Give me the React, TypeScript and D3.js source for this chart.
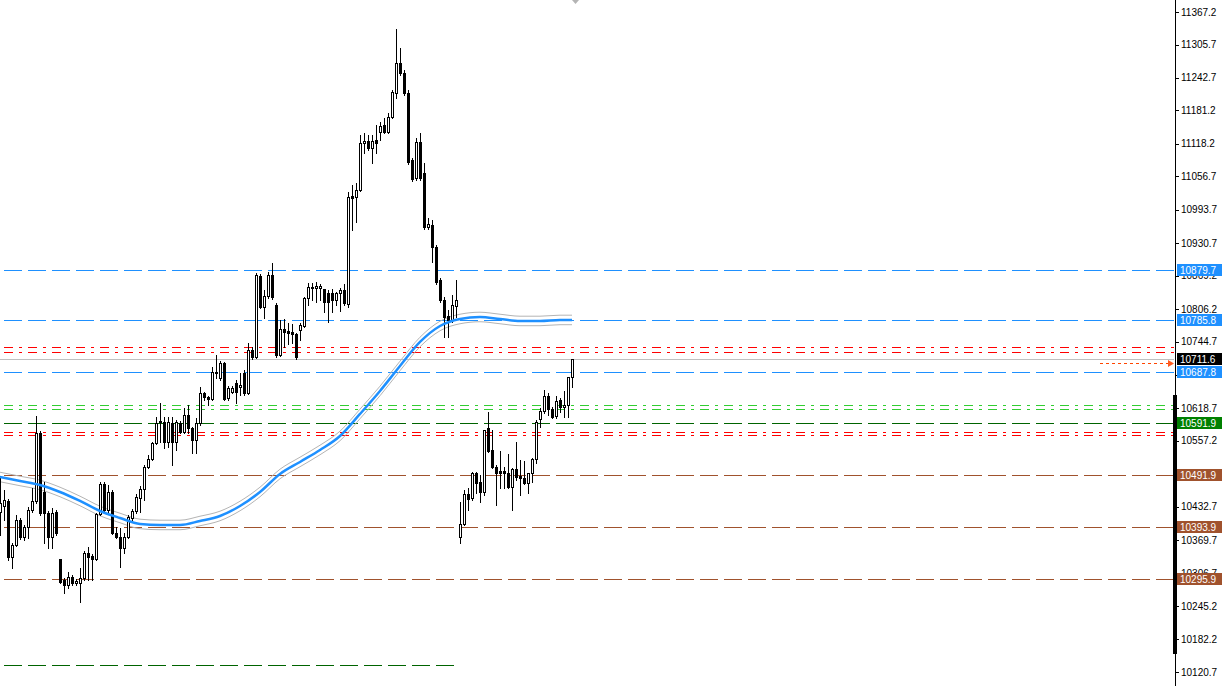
import React from "react";
import * as d3 from "d3";

const WIDTH = 1222;
const HEIGHT = 686;

// ---- price scale ----
const priceMin = 10120.7;
const priceMax = 11367.2;
const priceTicks = [
  11367.2, 11305.7, 11242.7, 11181.2, 11118.2, 11056.7, 10993.7, 10930.7, 10869.2, 10806.2, 10744.7,
  10681.7, 10618.7, 10557.2, 10494.2, 10432.7, 10369.7, 10306.7, 10245.2, 10182.2, 10120.7,
];

// ---- candles (OHLC) ----
const opens = [
  10423, 10434, 10444, 10338, 10361, 10408, 10376, 10395, 10427, 10444,
  10572, 10461, 10421, 10376, 10423, 10334, 10295, 10285, 10300, 10289,
  10289, 10298, 10346, 10340, 10334, 10419, 10476, 10427, 10461, 10383,
  10376, 10355, 10376, 10412, 10425, 10449, 10466, 10508, 10523, 10553,
  10593, 10593, 10555, 10591, 10555, 10591, 10574, 10606, 10582, 10559,
  10591, 10648, 10640, 10636, 10685, 10676, 10704, 10638, 10650, 10667,
  10659, 10685, 10648, 10729, 10716, 10869, 10810, 10831, 10871, 10814,
  10719, 10769, 10765, 10763, 10759, 10767, 10774, 10827, 10848, 10846,
  10846, 10844, 10837, 10837, 10823, 10837, 10842, 10816, 11020, 11018,
  11031, 11120, 11124, 11110, 11126, 11141, 11154, 11141, 11169, 11214,
  11271, 11252, 11214, 11088, 11054, 11122, 11063, 10961, 10965, 10923,
  10861, 10823, 10793, 10786, 10812, 10376, 10400, 10457, 10449, 10497,
  10480, 10461, 10582, 10540, 10508, 10500, 10500, 10497, 10470, 10504,
  10491, 10487, 10478, 10497, 10523, 10599, 10614, 10642, 10617, 10604,
  10634, 10621, 10625, 10678,
];
const highs = [
  10491, 10465, 10448, 10364, 10417, 10412, 10398, 10432, 10468, 10604,
  10576, 10480, 10425, 10431, 10427, 10334, 10298, 10310, 10304, 10296,
  10317, 10349, 10357, 10344, 10421, 10480, 10480, 10474, 10465, 10395,
  10393, 10383, 10417, 10429, 10457, 10472, 10512, 10531, 10555, 10602,
  10629, 10602, 10602, 10602, 10597, 10595, 10619, 10625, 10583, 10601,
  10659, 10650, 10642, 10697, 10720, 10708, 10706, 10661, 10661, 10672,
  10685, 10691, 10742, 10734, 10874, 10872, 10842, 10876, 10893, 10818,
  10786, 10787, 10780, 10778, 10761, 10780, 10829, 10855, 10855, 10857,
  10854, 10844, 10842, 10844, 10838, 10846, 10854, 11027, 11040, 11044,
  11135, 11139, 11135, 11135, 11154, 11160, 11167, 11177, 11220, 11335,
  11299, 11258, 11220, 11091, 11129, 11139, 11082, 10978, 10974, 10927,
  10865, 10829, 10804, 10833, 10861, 10442, 10465, 10468, 10498, 10498,
  10493, 10578, 10612, 10578, 10512, 10538, 10508, 10533, 10506, 10555,
  10521, 10519, 10497, 10525, 10597, 10619, 10653, 10648, 10621, 10642,
  10638, 10651, 10678, 10712,
];
const lows = [
  10380, 10408, 10332, 10317, 10359, 10372, 10370, 10374, 10423, 10440,
  10417, 10364, 10355, 10355, 10380, 10289, 10270, 10279, 10285, 10285,
  10253, 10295, 10295, 10295, 10332, 10417, 10423, 10423, 10381, 10374,
  10319, 10346, 10374, 10408, 10421, 10423, 10446, 10506, 10521, 10551,
  10555, 10544, 10546, 10512, 10540, 10572, 10572, 10572, 10534, 10534,
  10587, 10634, 10625, 10634, 10676, 10672, 10634, 10634, 10648, 10629,
  10644, 10644, 10646, 10712, 10714, 10808, 10789, 10827, 10825, 10716,
  10718, 10735, 10740, 10742, 10712, 10748, 10772, 10814, 10823, 10820,
  10823, 10801, 10782, 10801, 10814, 10803, 10814, 10810, 10956, 10971,
  11029, 11101, 11107, 11082, 11101, 11126, 11139, 11139, 11167, 11205,
  11248, 11211, 11080, 11048, 11050, 11050, 10957, 10957, 10895, 10854,
  10820, 10754, 10754, 10782, 10791, 10364, 10398, 10427, 10446, 10459,
  10442, 10455, 10536, 10506, 10436, 10468, 10468, 10468, 10427, 10483,
  10455, 10476, 10459, 10480, 10515, 10584, 10610, 10606, 10600, 10600,
  10612, 10602, 10602, 10659,
];
const closes = [
  10440, 10446, 10338, 10361, 10408, 10376, 10395, 10427, 10444, 10572,
  10421, 10421, 10376, 10421, 10383, 10291, 10285, 10300, 10289, 10293,
  10298, 10346, 10338, 10334, 10419, 10476, 10427, 10461, 10383, 10376,
  10355, 10376, 10414, 10425, 10451, 10466, 10508, 10523, 10553, 10591,
  10595, 10555, 10593, 10555, 10593, 10574, 10606, 10582, 10559, 10591,
  10648, 10640, 10636, 10687, 10687, 10704, 10636, 10657, 10657, 10650,
  10663, 10648, 10729, 10716, 10871, 10810, 10831, 10871, 10829, 10719,
  10769, 10763, 10761, 10759, 10716, 10776, 10827, 10848, 10846, 10850,
  10850, 10820, 10820, 10823, 10837, 10842, 10818, 11018, 11016, 11031,
  11120, 11124, 11110, 11124, 11120, 11152, 11141, 11169, 11216, 11271,
  11252, 11214, 11084, 11052, 11122, 11054, 10961, 10967, 10923, 10857,
  10823, 10791, 10786, 10814, 10823, 10400, 10457, 10448, 10497, 10478,
  10461, 10578, 10538, 10508, 10497, 10497, 10497, 10470, 10504, 10489,
  10487, 10478, 10497, 10523, 10593, 10614, 10642, 10617, 10602, 10633,
  10621, 10625, 10678, 10711.6,
];

// ---- moving average (sampled at candle indices) ----
const maIndex = [0, 5, 10, 15, 20, 25, 30, 35, 40, 45, 50, 55, 60, 65, 70, 75, 80, 85, 90, 95, 100, 105, 110, 115, 120, 125, 130, 135, 140, 143];
const maValues = [
  10489, 10481.5, 10474, 10460.7, 10443.7, 10424.8, 10411.6, 10400.3, 10398.4, 10398.4,
  10405.9, 10415.4, 10434.2, 10460.7, 10494.7, 10517.4, 10540.0, 10566.5, 10608.1, 10651.5,
  10698.7, 10744.0, 10774.2, 10787.4, 10791.2, 10787.4, 10783.7, 10783.7, 10785.6, 10785.6,
];
const maEnvelope = 9;

// ---- horizontal levels ----
const blueLevels = [10879.7, 10785.8, 10687.8];
const brownLevels = [10491.9, 10393.9, 10295.9];
const greenLevels = [10591.9];
const redDashDotLevels = [10733.6, 10726.0, 10574.9, 10567.4];
const limeDashDotLevels = [10624.4, 10616.9];
const bidPrice = 10711.6;
const lowerSupport = 10133.9;
const lowerSupportEndIndex = 113.5;
const arrowPrice = 10703.8;
const sideBar = [10155, 10644];

export default function App() {
  const n = closes.length;
  const x = d3.scaleLinear().domain([0, n - 1]).range([0, 572]);
  const y = d3.scaleLinear().domain([priceMin, priceMax]).range([672, 12]);
  const py = (v: number) => Math.round(y(v));
  const axisX = 1175;
  const lineEnd = 1174;
  const font = "'Liberation Sans', Arial, sans-serif";
  const fs = 10;

  const maPts = maIndex.map((j, k) => [j, maValues[k]] as [number, number]);
  const mkLine = (off: number) =>
    d3
      .line<[number, number]>()
      .x((d) => x(d[0]))
      .y((d) => y(d[1] + off))
      .curve(d3.curveMonotoneX)(maPts) || "";

  const hLine = (v: number, color: string, dash: string, key: string, x2 = lineEnd) => (
    <line key={key} x1={4} x2={x2} y1={py(v) + 0.5} y2={py(v) + 0.5} stroke={color} strokeWidth={1} strokeDasharray={dash} />
  );

  const labelBox = (v: number, bg: string, key: string) => (
    <g key={key}>
      <rect x={1177} y={py(v) - 6} width={45} height={12} fill={bg} />
      <text x={1180} y={py(v) + 0.5} dy="0.35em" fill="#fff" fontSize={fs} fontFamily={font}>
        {v.toFixed(1)}
      </text>
    </g>
  );

  const candles = closes.map((c, j) => {
    const o = opens[j];
    const h = highs[j];
    const l = lows[j];
    const px = Math.round(x(j));
    const bull = c >= o;
    const top = py(Math.max(o, c));
    const bot = py(Math.min(o, c));
    return (
      <g key={j}>
        <line x1={px + 0.5} x2={px + 0.5} y1={py(h)} y2={py(l) + 1} stroke="#000" strokeWidth={1} />
        {bull ? (
          <rect x={px - 0.5} y={top + 0.5} width={2} height={Math.max(bot - top, 0)} fill="#fff" stroke="#000" strokeWidth={1} />
        ) : (
          <rect x={px - 1} y={top} width={3} height={bot - top + 1} fill="#000" />
        )}
      </g>
    );
  });

  const ay = Math.round(y(arrowPrice));

  return (
    <svg
      width={WIDTH}
      height={HEIGHT}
      style={{ position: "absolute", left: 0, top: 0, background: "#fff" }}
      fontFamily={font}
    >
      <rect x={0} y={0} width={WIDTH} height={HEIGHT} fill="#fff" />

      {/* horizontal levels */}
      {blueLevels.map((v, k) => hLine(v, "#1E90FF", "18,6", "b" + k))}
      {brownLevels.map((v, k) => hLine(v, "#A0522D", "18,6", "br" + k))}
      {greenLevels.map((v, k) => hLine(v, "#006400", "18,6", "g" + k))}
      {redDashDotLevels.map((v, k) => hLine(v, "#FF0000", "9,6,3,6", "r" + k))}
      {limeDashDotLevels.map((v, k) => hLine(v, "#32CD32", "9,6,3,6", "l" + k))}
      {hLine(lowerSupport, "#006400", "18,6", "low", x(lowerSupportEndIndex))}

      {/* bid line */}
      <line x1={0} x2={lineEnd} y1={py(bidPrice) + 0.5} y2={py(bidPrice) + 0.5} stroke="#C0C0C0" strokeWidth={1} />

      {/* moving average envelope */}
      <path d={mkLine(maEnvelope)} fill="none" stroke="#B4B4B4" strokeWidth={1} />
      <path d={mkLine(-maEnvelope)} fill="none" stroke="#B4B4B4" strokeWidth={1} />

      {/* candles */}
      {candles}

      {/* moving average */}
      <path d={mkLine(0)} fill="none" stroke="#1E90FF" strokeWidth={2.5} />

      {/* arrow marker */}
      <line x1={1100} x2={1168} y1={ay + 0.5} y2={ay + 0.5} stroke="#FF4500" strokeWidth={1} strokeDasharray="3,3" />
      <polygon points={`1168,${ay - 3} 1174,${ay + 0.5} 1168,${ay + 4}`} fill="#FF5A1E" />

      {/* chart-shift marker */}
      <polygon points="572,0 579,0 575.5,4" fill="#B4B4B4" />

      {/* price axis */}
      <line x1={axisX + 0.5} x2={axisX + 0.5} y1={0} y2={HEIGHT} stroke="#000" strokeWidth={1} />
      <rect x={1173} y={py(sideBar[1])} width={4} height={py(sideBar[0]) - py(sideBar[1])} fill="#000" />
      {priceTicks.map((v, k) => (
        <g key={"t" + k}>
          <line x1={axisX} x2={axisX + 4} y1={py(v) + 0.5} y2={py(v) + 0.5} stroke="#000" strokeWidth={1} />
          <text x={1181} y={y(v)} dy="0.35em" fill="#000" fontSize={fs}>
            {v.toFixed(1)}
          </text>
        </g>
      ))}

      {/* level labels */}
      {blueLevels.map((v, k) => labelBox(v, "#1E90FF", "bl" + k))}
      {brownLevels.map((v, k) => labelBox(v, "#A0522D", "brl" + k))}
      {greenLevels.map((v, k) => labelBox(v, "#008000", "gl" + k))}
      {labelBox(bidPrice, "#000", "bid")}
    </svg>
  );
}
